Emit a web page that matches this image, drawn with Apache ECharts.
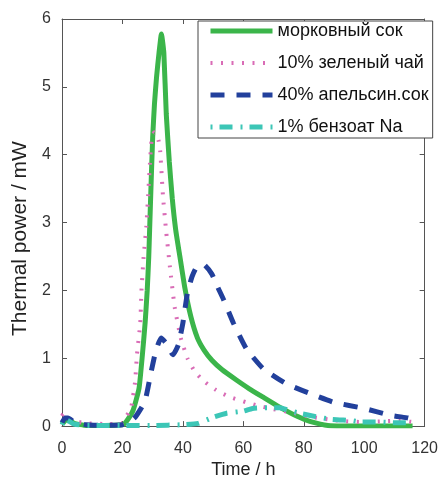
<!DOCTYPE html>
<html><head><meta charset="utf-8">
<script src="https://cdn.jsdelivr.net/npm/echarts@6/dist/echarts.min.js"></script>
<style>html,body{margin:0;padding:0;background:#fff}#c{width:441px;height:484px}</style>
</head><body><div id="c"></div>
<script>
// Series names (legend)
const seriesNames = ['морковный сок', '10% зеленый чай', '40% апельсин.сок', '1% бензоат Na'];

// Axis ranges / titles
const xTitle = 'Time / h';
const yTitle = 'Thermal power / mW';
const xMin = 0, xMax = 120, xStep = 20;
const yMin = 0, yMax = 6, yStep = 1;

// морковный сок (carrot juice)
const carrotT = [0, 1, 2, 4, 8, 14, 20, 21, 23.5, 25.5, 26.6, 27.5, 28.2, 28.7, 29.0, 29.5, 30.0, 30.6, 31.3, 32.1, 32.9, 33.7, 34.5, 35.5, 36.5, 37.6, 39.0, 40.6, 42.6, 44.8, 47.0, 49.6, 53.0, 57.7, 62.0, 66.4, 72, 78, 82, 88, 100, 116];
const carrotV = [0.03, 0.08, 0.1, 0.04, 0.01, 0.01, 0.02, 0.05, 0.23, 0.56, 1.05, 1.52, 2.0, 2.49, 2.9, 3.6, 4.25, 4.75, 5.15, 5.5, 5.78, 5.5, 4.6, 3.9, 3.35, 2.9, 2.5, 2.05, 1.62, 1.3, 1.12, 0.97, 0.83, 0.68, 0.55, 0.43, 0.28, 0.14, 0.07, 0.01, 0.0, 0.0];

// 10% зеленый чай (green tea)
const teaT = [0, 0.5, 3, 9, 15.6, 20, 22, 23, 24.2, 24.8, 25.9, 26.3, 27, 27.9, 28.5, 29.1, 29.6, 30.5, 31.3, 32, 32.5, 33.4, 34.4, 35.7, 37.3, 39.3, 41.5, 44, 47, 51, 55.5, 64, 70, 76, 82, 88, 94, 100, 106, 112, 116];
const teaV = [0.15, 0.18, 0.08, 0.04, 0.03, 0.05, 0.2, 0.3, 0.66, 1.05, 1.52, 2.0, 2.49, 2.94, 3.4, 3.87, 4.19, 4.33, 4.3, 4.2, 4.05, 3.4, 2.9, 2.35, 1.75, 1.3, 1.0, 0.8, 0.66, 0.53, 0.43, 0.31, 0.25, 0.2, 0.14, 0.1, 0.07, 0.06, 0.07, 0.08, 0.06];

// 40% апельсин.сок (orange juice)
const orangeT = [0, 1, 2, 4, 8, 14, 20, 22, 24.2, 26, 27.5, 29.5, 31, 32.8, 34.5, 36.7, 38.5, 40, 41.5, 43, 44.5, 46.9, 49.6, 51.5, 53.5, 56.7, 61, 66.5, 74, 81.5, 90, 100, 108.6, 114.5, 116];
const orangeV = [0.05, 0.12, 0.12, 0.06, 0.02, 0.01, 0.02, 0.05, 0.13, 0.25, 0.37, 0.8, 1.1, 1.3, 1.22, 1.05, 1.2, 1.52, 1.96, 2.2, 2.34, 2.38, 2.24, 2.05, 1.86, 1.52, 1.14, 0.85, 0.63, 0.49, 0.35, 0.26, 0.16, 0.12, 0.1];

// 1% бензоат Na (sodium benzoate)
const benzoT = [0, 1, 2, 4, 8, 14, 20, 30, 40, 45, 50, 54.5, 60, 63, 67, 72, 76, 79.5, 84, 89, 96, 99, 105, 110, 114, 116];
const benzoV = [0.02, 0.1, 0.08, 0.03, 0.01, 0.01, 0.01, 0.01, 0.02, 0.04, 0.13, 0.19, 0.22, 0.26, 0.27, 0.27, 0.22, 0.18, 0.14, 0.1, 0.08, 0.06, 0.06, 0.05, 0.05, 0.05];

const zip = (t, v) => t.map((x, i) => [x, v[i]]);

const styles = [
  { color: '#3bb54a', width: 5, type: 'solid' },
  { color: '#d96cb6', width: 4, type: [2, 8.5] },
  { color: '#22409c', width: 5, type: [14, 12] },
  { color: '#3cc6b6', width: 5, type: [2, 7, 13, 8] }
];
const dataSets = [zip(carrotT, carrotV), zip(teaT, teaV), zip(orangeT, orangeV), zip(benzoT, benzoV)];

const axisColor = '#555';
const labelFont = { fontFamily: 'Liberation Sans', fontSize: 16, color: '#333' };

const chart = echarts.init(document.getElementById('c'), null, { renderer: 'canvas' });
chart.setOption({
  animation: false,
  backgroundColor: '#fff',
  grid: { left: 62, right: 9, top: 19, bottom: 48 },
  legend: {
    orient: 'vertical', left: 198, top: 21,
    data: seriesNames.map((name, i) => ({
      name,
      itemStyle: { opacity: 0 },
      lineStyle: { color: styles[i].color, width: styles[i].width, type: styles[i].type, cap: 'butt', opacity: 1 }
    })),
    itemWidth: 62, itemHeight: 18, itemGap: 14,
    padding: [1, 4, 2, 10],
    backgroundColor: '#fff', borderColor: '#444', borderWidth: 1,
    textStyle: { fontFamily: 'Liberation Sans', fontSize: 18, color: '#111', lineHeight: 18 }
  },
  xAxis: [{
    type: 'value', min: xMin, max: xMax, interval: xStep,
    name: xTitle, nameLocation: 'middle', nameGap: 31,
    nameTextStyle: { fontFamily: 'Liberation Sans', fontSize: 18, color: '#222' },
    axisLine: { show: true, onZero: false, lineStyle: { color: axisColor, width: 1 } },
    axisTick: { show: true, inside: true, length: 5, lineStyle: { color: axisColor } },
    axisLabel: Object.assign({ margin: 14 }, labelFont),
    splitLine: { show: false }
  }, {
    type: 'value', position: 'top', min: xMin, max: xMax, interval: xStep,
    axisLine: { show: true, onZero: false, lineStyle: { color: axisColor, width: 1 } },
    axisTick: { show: true, inside: true, length: 5, lineStyle: { color: axisColor } },
    axisLabel: { show: false }, splitLine: { show: false }
  }],
  yAxis: [{
    type: 'value', min: yMin, max: yMax, interval: yStep,
    name: yTitle, nameLocation: 'middle', nameGap: 30,
    nameTextStyle: { fontFamily: 'Liberation Sans', fontSize: 21, color: '#222', padding: [0, 32, 0, 0] },
    axisLine: { show: true, onZero: false, lineStyle: { color: axisColor, width: 1 } },
    axisTick: { show: true, inside: true, length: 5, lineStyle: { color: axisColor } },
    axisLabel: Object.assign({ margin: 11 }, labelFont),
    splitLine: { show: false }
  }, {
    type: 'value', position: 'right', min: yMin, max: yMax, interval: yStep,
    axisLine: { show: true, onZero: false, lineStyle: { color: axisColor, width: 1 } },
    axisTick: { show: true, inside: true, length: 5, lineStyle: { color: axisColor } },
    axisLabel: { show: false }, splitLine: { show: false }
  }],
  series: seriesNames.map((name, i) => ({
    name, type: 'line', data: dataSets[i],
    xAxisIndex: 0, yAxisIndex: 0,
    symbol: 'none', smooth: 0.15,
    color: styles[i].color,
    lineStyle: { color: styles[i].color, width: styles[i].width, type: styles[i].type, cap: 'butt' },
    clip: true
  }))
});
</script>
</body></html>
